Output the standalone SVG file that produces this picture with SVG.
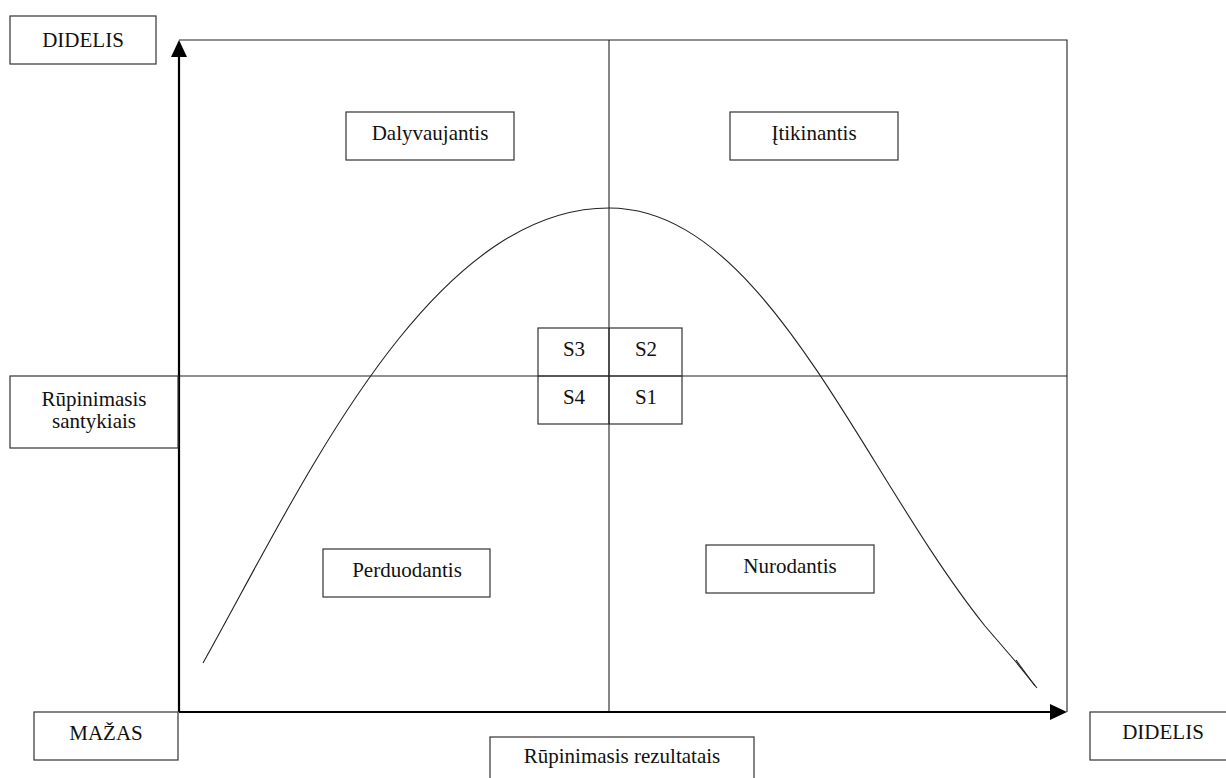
<svg xmlns="http://www.w3.org/2000/svg" width="1226" height="778" viewBox="0 0 1226 778">
  <style>
    .box { fill: #ffffff; stroke: #333333; stroke-width: 1.2; }
    .lbl { font-family: "Liberation Serif", "DejaVu Serif", serif; font-size: 21px; fill: #111111; text-anchor: middle; }
    .thin { fill: none; stroke: #222222; stroke-width: 1.1; }
    .axis { fill: none; stroke: #000000; stroke-width: 2.2; }
  </style>
  <rect width="1226" height="778" fill="#ffffff"/>

  <g id="connectors">
    <!-- quadrant frame -->
    <path class="thin" d="M179,40 H1067 V712"/>
    <path class="thin" d="M179,376 H1067"/>
    <path class="thin" d="M609,40 V712"/>
    <!-- axes with filled arrowheads -->
    <path class="axis" d="M179,712 V56"/>
    <path d="M171,57 L179,40 L187,57 Z" fill="#000000"/>
    <path class="axis" d="M179,712 H1050"/>
    <path d="M1050,704 L1067,712 L1050,720 Z" fill="#000000"/>
    <!-- life-cycle curve -->
    <path class="thin" d="M203,663 C300,490 428,208 609,208 C765,208 860,470 985,626 L1016,662 L1037,688"/>
    <path class="thin" d="M1016,660 L1035,686"/>
  </g>

  <g id="node-didelis-y">
    <rect class="box" x="10" y="16" width="146" height="48"/>
    <text class="lbl" x="83" y="47" font-family="Liberation Serif, serif">DIDELIS</text>
  </g>
  <g id="node-santykiai">
    <rect class="box" x="10" y="376" width="168" height="72"/>
    <text class="lbl" x="94" y="406">Rūpinimasis</text>
    <text class="lbl" x="94" y="428">santykiais</text>
  </g>
  <g id="node-mazas">
    <rect class="box" x="34" y="712" width="144" height="48"/>
    <text class="lbl" x="106" y="740">MAŽAS</text>
  </g>
  <g id="node-rezultatai">
    <rect class="box" x="490" y="737" width="264" height="48"/>
    <text class="lbl" x="622" y="763">Rūpinimasis rezultatais</text>
  </g>
  <g id="node-didelis-x">
    <rect class="box" x="1090" y="712" width="146" height="48"/>
    <text class="lbl" x="1163" y="739">DIDELIS</text>
  </g>

  <g id="node-dalyvaujantis">
    <rect class="box" x="346" y="112" width="168" height="48"/>
    <text class="lbl" x="430" y="140">Dalyvaujantis</text>
  </g>
  <g id="node-itikinantis">
    <rect class="box" x="730" y="112" width="168" height="48"/>
    <text class="lbl" x="814" y="140">Įtikinantis</text>
  </g>
  <g id="node-perduodantis">
    <rect class="box" x="323" y="549" width="167" height="48"/>
    <text class="lbl" x="407" y="577">Perduodantis</text>
  </g>
  <g id="node-nurodantis">
    <rect class="box" x="706" y="545" width="168" height="48"/>
    <text class="lbl" x="790" y="573">Nurodantis</text>
  </g>

  <g id="node-styles">
    <rect x="538" y="328" width="144" height="96" fill="none" stroke="#333333" stroke-width="1.2"/>
    <path class="thin" d="M538,376 H682 M609,328 V424"/>
    <text class="lbl" x="574" y="356">S3</text>
    <text class="lbl" x="646" y="356">S2</text>
    <text class="lbl" x="574" y="404">S4</text>
    <text class="lbl" x="646" y="404">S1</text>
  </g>
</svg>
